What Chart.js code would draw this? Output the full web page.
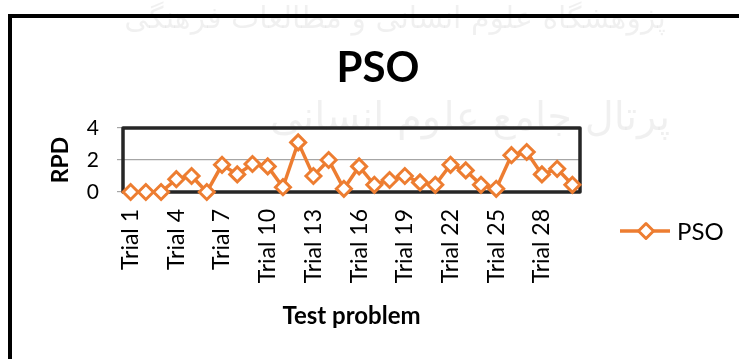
<!DOCTYPE html>
<html>
<head>
<meta charset="utf-8">
<script src="https://cdn.jsdelivr.net/npm/chart.js@4"></script>
<style>
html,body{margin:0;padding:0;background:#fff;}
#wrap{width:739px;height:359px;position:relative;}
</style>
</head>
<body>
<div id="wrap"><canvas id="c" width="739" height="359"></canvas></div>
<script>
const categories = Array.from({length: 30}, (_, i) => 'Trial ' + (i + 1));
const psoValues = [0, 0, 0, 0.8, 1.0, 0, 1.7, 1.1, 1.75, 1.6, 0.3, 3.1, 1.0, 2.0, 0.2, 1.6, 0.45, 0.75, 1.0, 0.6, 0.45, 1.7, 1.35, 0.45, 0.2, 2.3, 2.5, 1.1, 1.45, 0.45];
const yTicks = [0, 2, 4];
const chartTitle = 'PSO';
const seriesName = 'PSO';
const xTitle = 'Test problem';
const yTitle = 'RPD';
const watermark1 = 'پژوهشگاه علوم انسانی و مطالعات فرهنگی';
const watermark2 = 'پرتال جامع علوم انسانی';

const ORANGE = '#ED7D31';
const FONT = 'Lato, "Open Sans", sans-serif';

const decor = {
  id: 'decor',
  beforeDraw(chart) {
    const ctx = chart.ctx;
    ctx.save();
    ctx.fillStyle = '#fff';
    ctx.fillRect(0, 0, chart.width, chart.height);
    // faint watermark
    ctx.fillStyle = 'rgba(0,0,0,0.06)';
    ctx.textAlign = 'center';
    ctx.textBaseline = 'middle';
    ctx.font = '30px "DejaVu Sans"';
    ctx.fillText(watermark1, 395, 20);
    ctx.font = '40px "DejaVu Sans"';
    ctx.fillText(watermark2, 470, 120);
    // outer border
    ctx.strokeStyle = '#000';
    ctx.lineWidth = 4;
    ctx.beginPath();
    ctx.moveTo(10, 359);
    ctx.lineTo(10, 16);
    ctx.lineTo(739, 16);
    ctx.stroke();
    // title
    ctx.fillStyle = '#000';
    ctx.font = 'bold 42px ' + FONT;
    ctx.textAlign = 'center';
    ctx.textBaseline = 'alphabetic';
    ctx.fillText(chartTitle, 378, 82);
    ctx.restore();
  },
  beforeDatasetsDraw(chart) {
    const {ctx, chartArea: a} = chart;
    ctx.save();
    ctx.strokeStyle = '#262626';
    ctx.lineWidth = 3.5;
    ctx.lineJoin = 'round';
    ctx.strokeRect(a.left, a.top, a.right - a.left, a.bottom - a.top);
    ctx.restore();
  },
  afterDraw(chart) {
    const ctx = chart.ctx;
    const ds = chart.data.datasets[0];
    ctx.save();
    const y = 231;
    ctx.strokeStyle = ds.borderColor;
    ctx.lineWidth = ds.borderWidth;
    ctx.beginPath();
    ctx.moveTo(620, y);
    ctx.lineTo(670, y);
    ctx.stroke();
    const cx = 646, r = ds.pointRadius;
    ctx.beginPath();
    ctx.moveTo(cx, y - r);
    ctx.lineTo(cx + r, y);
    ctx.lineTo(cx, y + r);
    ctx.lineTo(cx - r, y);
    ctx.closePath();
    ctx.fillStyle = '#fff';
    ctx.fill();
    ctx.lineWidth = ds.pointBorderWidth;
    ctx.strokeStyle = ds.pointBorderColor;
    ctx.lineJoin = 'round';
    ctx.stroke();
    ctx.fillStyle = '#000';
    ctx.font = '24px ' + FONT;
    ctx.textAlign = 'left';
    ctx.textBaseline = 'middle';
    ctx.fillText(ds.label, 677, y + 1);
    ctx.restore();
  }
};

new Chart(document.getElementById('c'), {
  type: 'line',
  data: {
    labels: categories,
    datasets: [{
      label: seriesName,
      data: psoValues,
      borderColor: ORANGE,
      borderWidth: 3.5,
      pointStyle: 'rectRot',
      pointRadius: 7.5,
      pointBackgroundColor: '#fff',
      pointBorderColor: ORANGE,
      pointBorderWidth: 3,
      tension: 0,
      clip: false
    }]
  },
  options: {
    responsive: false,
    animation: false,
    devicePixelRatio: 1,
    layout: {padding: {left: 47, right: 159, top: 128, bottom: 28}},
    plugins: {legend: {display: false}, title: {display: false}, tooltip: {enabled: false}},
    scales: {
      x: {
        offset: true,
        grid: {display: false, drawTicks: false},
        border: {display: false},
        ticks: {
          autoSkip: false,
          minRotation: 90,
          maxRotation: 90,
          padding: 17,
          color: '#000',
          font: {family: FONT, size: 23},
          callback: function(v, i) { return i % 3 === 0 ? categories[i] : ''; }
        },
        title: {display: true, text: xTitle, color: '#000', font: {family: FONT, size: 24, weight: 'bold'}, padding: 0},
        afterFit(s) { s.height = 139; }
      },
      y: {
        min: 0,
        max: 4,
        afterBuildTicks(s) { s.ticks = yTicks.map(v => ({value: v})); },
        grid: {color: '#a6a6a6', lineWidth: 1.2, drawTicks: true, tickLength: 6, tickColor: '#a6a6a6'},
        border: {display: false},
        ticks: {padding: 18, color: '#000', font: {family: FONT, size: 21}},
        title: {display: true, text: yTitle, color: '#000', font: {family: FONT, size: 23, weight: 'bold'}, padding: 0},
        afterFit(s) { s.width = 76; }
      }
    }
  },
  plugins: [decor]
});
</script>
</body>
</html>
